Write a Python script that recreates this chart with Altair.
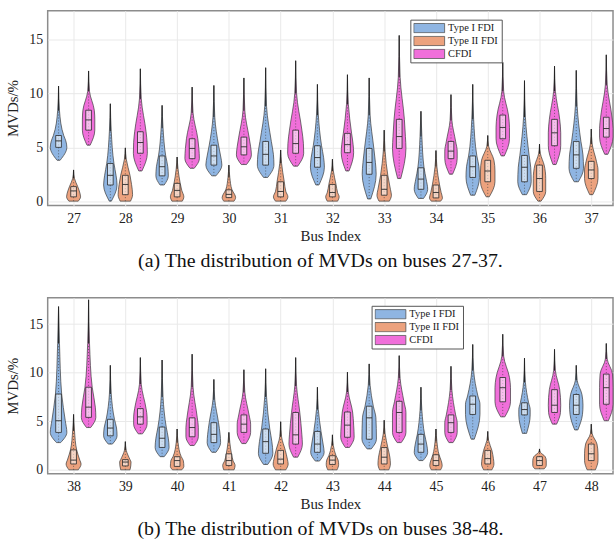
import altair as alt
import pandas as pd

SERIES = ["Type I FDI", "Type II FDI", "CFDI"]
COLORS = ["#8fb5e2", "#eca27e", "#f06fda"]

buses_a = list(range(27, 38))
buses_b = list(range(38, 49))

# each row: min, q1, median, q3, tail start, max, half-width at min, q1, median, q3
a_type1 = [
    [3.8, 5.0, 5.6, 6.1, 8.4, 10.7, 0.03, 0.16, 0.14, 0.10],
    [0.0, 1.5, 2.4, 3.5, 6.5, 9.05, 0.02, 0.13, 0.11, 0.07],
    [1.5, 2.35, 3.2, 4.2, 6.8, 8.9, 0.04, 0.12, 0.11, 0.07],
    [2.35, 3.35, 4.2, 5.2, 7.8, 10.75, 0.04, 0.155, 0.13, 0.09],
    [2.2, 3.35, 4.35, 5.55, 8.8, 12.4, 0.04, 0.16, 0.15, 0.11],
    [1.5, 3.15, 4.05, 5.15, 8.0, 10.85, 0.03, 0.135, 0.12, 0.08],
    [0.2, 2.5, 3.6, 4.9, 8.0, 11.45, 0.03, 0.135, 0.12, 0.09],
    [0.25, 1.1, 2.05, 3.1, 6.0, 8.35, 0.05, 0.13, 0.10, 0.06],
    [0.55, 2.2, 3.2, 4.2, 7.6, 10.85, 0.04, 0.13, 0.12, 0.08],
    [0.6, 1.8, 3.15, 4.25, 7.8, 11.2, 0.04, 0.13, 0.12, 0.09],
    [1.8, 3.05, 4.3, 5.55, 8.8, 12.15, 0.04, 0.14, 0.13, 0.09],
]
a_type2 = [
    [0.0, 0.4, 0.95, 1.35, 2.1, 2.9, 0.09, 0.135, 0.11, 0.08],
    [0.0, 0.6, 1.55, 2.4, 3.9, 4.95, 0.10, 0.14, 0.12, 0.09],
    [0.0, 0.4, 1.0, 1.65, 3.0, 4.1, 0.10, 0.13, 0.09, 0.06],
    [0.0, 0.33, 0.63, 1.05, 2.2, 3.35, 0.10, 0.13, 0.11, 0.06],
    [0.0, 0.4, 0.9, 1.8, 3.5, 4.75, 0.10, 0.14, 0.10, 0.07],
    [0.0, 0.4, 0.8, 1.55, 2.8, 3.9, 0.10, 0.13, 0.10, 0.07],
    [0.0, 0.55, 1.1, 2.4, 4.6, 6.6, 0.10, 0.14, 0.12, 0.07],
    [0.0, 0.3, 0.8, 1.5, 3.2, 4.7, 0.09, 0.125, 0.10, 0.07],
    [0.4, 1.8, 2.8, 3.8, 5.1, 6.1, 0.03, 0.14, 0.14, 0.12],
    [0.0, 0.9, 2.1, 3.35, 4.4, 5.3, 0.03, 0.12, 0.12, 0.09],
    [0.6, 2.1, 2.9, 3.7, 5.3, 6.7, 0.03, 0.13, 0.13, 0.10],
]
a_cfdi = [
    [5.2, 6.6, 7.55, 8.45, 10.2, 12.1, 0.03, 0.12, 0.12, 0.11],
    [2.8, 4.45, 5.45, 6.45, 9.5, 12.3, 0.03, 0.135, 0.13, 0.11],
    [3.05, 3.95, 4.9, 5.8, 8.2, 10.6, 0.04, 0.14, 0.13, 0.11],
    [3.4, 4.3, 5.05, 5.95, 8.4, 11.45, 0.05, 0.145, 0.13, 0.10],
    [3.25, 4.45, 5.35, 6.6, 10.0, 13.05, 0.04, 0.155, 0.15, 0.12],
    [2.8, 4.5, 5.25, 6.3, 9.0, 11.75, 0.03, 0.12, 0.11, 0.08],
    [2.1, 4.9, 6.0, 7.6, 11.5, 15.4, 0.03, 0.13, 0.12, 0.10],
    [2.5, 3.95, 4.65, 5.55, 7.5, 9.9, 0.03, 0.12, 0.12, 0.09],
    [4.2, 5.8, 6.85, 8.0, 10.2, 12.9, 0.03, 0.13, 0.13, 0.11],
    [3.4, 5.15, 6.35, 7.6, 10.2, 12.55, 0.03, 0.12, 0.12, 0.10],
    [4.35, 5.95, 6.75, 7.8, 10.8, 13.6, 0.03, 0.13, 0.13, 0.11],
]
b_type1 = [
    [2.8, 3.85, 5.05, 7.8, 13.0, 16.8, 0.04, 0.16, 0.13, 0.06],
    [2.65, 3.5, 4.3, 5.2, 7.8, 10.75, 0.04, 0.13, 0.12, 0.08],
    [1.35, 2.3, 3.25, 4.4, 7.5, 11.3, 0.04, 0.135, 0.12, 0.08],
    [1.8, 2.8, 3.65, 4.85, 7.2, 9.3, 0.04, 0.13, 0.12, 0.09],
    [0.55, 1.7, 2.9, 4.2, 7.5, 10.4, 0.04, 0.14, 0.12, 0.08],
    [0.9, 1.8, 2.65, 3.95, 6.2, 8.5, 0.04, 0.13, 0.11, 0.07],
    [2.15, 3.15, 5.35, 6.55, 8.7, 10.9, 0.04, 0.14, 0.13, 0.08],
    [0.95, 1.8, 2.65, 3.65, 6.1, 8.5, 0.04, 0.13, 0.11, 0.07],
    [3.15, 5.7, 6.75, 7.6, 10.2, 12.9, 0.03, 0.14, 0.14, 0.10],
    [3.75, 5.65, 6.2, 6.9, 9.0, 11.5, 0.04, 0.11, 0.11, 0.08],
    [4.1, 5.7, 6.65, 7.75, 9.2, 10.75, 0.03, 0.12, 0.13, 0.11],
]
b_type2 = [
    [0.0, 0.6, 1.0, 2.05, 4.0, 5.7, 0.09, 0.145, 0.12, 0.06],
    [0.0, 0.4, 0.8, 1.05, 2.0, 2.9, 0.09, 0.105, 0.11, 0.09],
    [0.0, 0.35, 0.95, 1.35, 2.8, 4.2, 0.09, 0.13, 0.12, 0.08],
    [0.0, 0.45, 0.95, 1.65, 2.8, 3.85, 0.10, 0.12, 0.08, 0.05],
    [0.0, 0.6, 1.1, 2.0, 3.4, 4.95, 0.10, 0.145, 0.13, 0.09],
    [0.0, 0.55, 1.0, 1.45, 2.5, 3.6, 0.09, 0.12, 0.11, 0.07],
    [0.0, 0.6, 1.3, 2.3, 3.7, 5.1, 0.09, 0.12, 0.11, 0.07],
    [0.0, 0.45, 0.95, 1.55, 2.9, 4.2, 0.09, 0.12, 0.10, 0.06],
    [0.0, 0.6, 1.15, 2.0, 3.0, 3.95, 0.08, 0.12, 0.11, 0.08],
    [0.1, 0.45, 0.95, 1.35, 1.8, 2.15, 0.09, 0.13, 0.13, 0.11],
    [0.0, 0.95, 1.65, 2.65, 3.7, 4.7, 0.08, 0.13, 0.13, 0.11],
]
b_cfdi = [
    [4.35, 5.4, 6.45, 8.5, 13.0, 17.5, 0.04, 0.14, 0.13, 0.07],
    [3.7, 4.7, 5.45, 6.3, 8.8, 11.55, 0.04, 0.13, 0.13, 0.11],
    [2.5, 3.4, 4.35, 5.35, 8.5, 11.9, 0.04, 0.12, 0.12, 0.10],
    [2.7, 3.85, 4.7, 5.65, 8.0, 10.3, 0.04, 0.13, 0.13, 0.10],
    [1.3, 2.65, 3.6, 5.9, 8.6, 11.55, 0.04, 0.13, 0.12, 0.08],
    [2.3, 3.35, 4.6, 5.95, 8.0, 10.05, 0.04, 0.13, 0.12, 0.10],
    [2.8, 3.85, 5.9, 7.05, 9.4, 11.75, 0.04, 0.13, 0.13, 0.09],
    [2.8, 3.85, 4.85, 5.65, 8.2, 10.65, 0.04, 0.12, 0.12, 0.09],
    [5.45, 7.0, 8.45, 9.5, 11.7, 13.95, 0.04, 0.15, 0.15, 0.13],
    [4.7, 5.9, 6.65, 8.25, 10.2, 12.4, 0.04, 0.115, 0.12, 0.10],
    [5.05, 6.75, 8.45, 9.85, 11.4, 13.0, 0.04, 0.13, 0.13, 0.12],
]

TAIL_W = 0.018
FONT = "Liberation Serif"


def build(buses, groups):
    knots, summ = [], []
    for s, rows in zip(SERIES, groups):
        for bus, r in zip(buses, rows):
            mn, q1, md, q3, tl, mx, w0, w1, wm, w3 = r
            vid = f"{s}-{bus}"
            pts = [(mn, w0), (q1, w1), (md, wm), (q3, w3), (tl, TAIL_W), (mx, 0.0)]
            for k, (yv, wv) in enumerate(pts):
                knots.append({"bus": bus, "series": s, "vid": vid, "k": k, "y": yv, "w": wv})
            summ.append({"bus": bus, "series": s, "min": mn, "q1": q1, "med": md,
                         "q3": q3, "tail": tl, "max": mx})
    return pd.DataFrame(knots), pd.DataFrame(summ)


XC = ("datum.bus + (datum.series == 'Type I FDI' ? -0.29 : "
      "(datum.series == 'CFDI' ? 0.29 : 0))")


def panel(buses, groups, caption, height, lx, ly):
    kdf, sdf = build(buses, groups)
    xscale = alt.Scale(domain=[buses[0] - 0.5, buses[-1] + 0.42], nice=False, zero=False)
    yscale = alt.Scale(domain=[-0.4, 17.7], nice=False, zero=False)
    xaxis = alt.Axis(values=buses, title="Bus Index", grid=True, ticks=False, domain=False,
                     gridColor="#e9e9e9", labelFont=FONT, labelFontSize=14, labelColor="#222",
                     titleFont=FONT, titleFontSize=15, titleFontWeight="normal",
                     titleColor="#222", labelPadding=6, titlePadding=3, format="d")
    yaxis = alt.Axis(values=[0, 5, 10, 15], title="MVDs/%", grid=True, ticks=False,
                     domain=False, gridColor="#e9e9e9", labelFont=FONT, labelFontSize=14,
                     labelColor="#222", titleFont=FONT, titleFontSize=15,
                     titleFontWeight="normal", titleColor="#222", labelPadding=5,
                     titlePadding=8)

    legend = alt.Legend(title=None, orient="none", legendX=lx, legendY=ly,
                        symbolType="M-1,-0.3L1,-0.3L1,0.3L-1,0.3Z", symbolSize=961,
                        symbolStrokeColor="#555", symbolStrokeWidth=0.8, symbolOpacity=1,
                        clipHeight=11, rowPadding=2, labelOffset=3, padding=3,
                        labelFont=FONT, labelFontSize=10.5, labelColor="#222",
                        strokeColor="#555", fillColor="white", cornerRadius=0)

    violins = alt.Chart(kdf).mark_area(
        orient="horizontal", interpolate="monotone", stroke="#3a3a3a",
        strokeWidth=0.7, opacity=1
    ).transform_calculate(
        xc=XC
    ).transform_calculate(
        xl="datum.xc - datum.w", xr="datum.xc + datum.w"
    ).encode(
        y=alt.Y("y:Q", scale=yscale, axis=yaxis),
        x=alt.X("xl:Q", scale=xscale, axis=xaxis),
        x2="xr:Q",
        color=alt.Color("series:N", scale=alt.Scale(domain=SERIES, range=COLORS),
                        legend=legend),
        detail="vid:N",
    )

    base = alt.Chart(sdf).transform_calculate(xc=XC).transform_calculate(
        bl="datum.xc - 0.055", br="datum.xc + 0.055")

    dots = base.mark_rule(color="#444", strokeWidth=0.7, strokeDash=[1, 2]).encode(
        x=alt.X("xc:Q", scale=xscale, axis=xaxis),
        y=alt.Y("min:Q", scale=yscale, axis=yaxis), y2="tail:Q")
    tail = base.mark_rule(color="#222", strokeWidth=1).encode(
        x=alt.X("xc:Q", scale=xscale, axis=xaxis),
        y=alt.Y("tail:Q", scale=yscale, axis=yaxis), y2="max:Q")
    box = base.mark_rect(fill="white", fillOpacity=0.55, stroke="#2a2a2a",
                         strokeWidth=0.8).encode(
        x=alt.X("bl:Q", scale=xscale, axis=xaxis), x2="br:Q",
        y=alt.Y("q1:Q", scale=yscale, axis=yaxis), y2="q3:Q")
    med = base.mark_rule(color="#2a2a2a", strokeWidth=0.9).encode(
        x=alt.X("bl:Q", scale=xscale, axis=xaxis), x2="br:Q",
        y=alt.Y("med:Q", scale=yscale, axis=yaxis))

    return alt.layer(violins, dots, tail, box, med).properties(
        width=569, height=height,
        title=alt.TitleParams(caption, orient="bottom", anchor="middle", font=FONT,
                              fontSize=20, fontWeight="normal", color="#111",
                              offset=8, dx=-10),
    )


top = panel(buses_a, [a_type1, a_type2, a_cfdi],
            "(a) The distribution of MVDs on buses 27-37.", 196, 365, 9)
bottom = panel(buses_b, [b_type1, b_type2, b_cfdi],
               "(b) The distribution of MVDs on buses 38-48.", 177, 326, 8)

chart = alt.vconcat(top, bottom, spacing=25).resolve_scale(
    color="independent"
).properties(
    padding={"left": 5, "top": 8, "right": 0, "bottom": 5},
    background="white",
).configure_view(
    stroke="#8c8c8c", strokeWidth=1.5
)

chart.save("out.html", embed_options={"renderer": "svg", "actions": False})
